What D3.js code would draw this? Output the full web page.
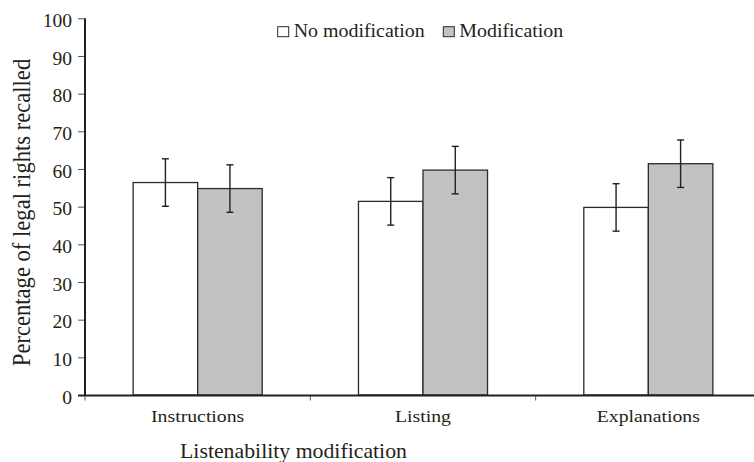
<!DOCTYPE html>
<html>
<head>
<meta charset="utf-8">
<script src="https://cdn.jsdelivr.net/npm/d3@7"></script>
<style>
  html, body { margin: 0; padding: 0; background: #fff; }
  svg { display: block; }
  text { font-family: "Liberation Serif", "Times New Roman", serif; fill: #231f20; }
</style>
</head>
<body>
<script>
const categories = ["Instructions", "Listing", "Explanations"];
const seriesNames = ["No modification", "Modification"];
const noModValues = [56.4, 51.4, 49.8];
const modValues = [54.8, 59.7, 61.4];
const noModErrors = [6.3, 6.3, 6.3];
const modErrors = [6.3, 6.3, 6.3];
const yTicks = [0, 10, 20, 30, 40, 50, 60, 70, 80, 90, 100];
const yTitle = "Percentage of legal rights recalled";
const xTitle = "Listenability modification";

const W = 754, H = 462;
const mLeft = 85, mTop = 18.3, mBottom = 395, mRight = 761;
const colors = {"No modification": "#ffffff", "Modification": "#c1c2c4"};
const ink = "#231f20";

const svg = d3.select("body").append("svg").attr("width", W).attr("height", H);

const y = d3.scaleLinear().domain([0, 100]).range([mBottom, mTop]);
const x = d3.scaleBand().domain(categories).range([mLeft, mRight]).paddingInner(0).paddingOuter(0);
const xs = d3.scaleBand().domain(seriesNames).range([0, x.bandwidth()]).paddingInner(0).paddingOuter(0.746);

const rows = categories.map((c, i) => ({
  cat: c,
  vals: [
    {s: seriesNames[0], v: noModValues[i], e: noModErrors[i]},
    {s: seriesNames[1], v: modValues[i], e: modErrors[i]}
  ]
}));

// bars
const g = svg.append("g");
const groups = g.selectAll("g.cat").data(rows).join("g")
  .attr("transform", d => `translate(${x(d.cat)},0)`);
groups.selectAll("rect").data(d => d.vals).join("rect")
  .attr("x", d => xs(d.s))
  .attr("y", d => y(d.v))
  .attr("width", xs.bandwidth())
  .attr("height", d => y(0) - y(d.v))
  .attr("fill", d => colors[d.s])
  .attr("stroke", "#2b2b2b")
  .attr("stroke-width", 1.3);

// error bars
const cap = 3.5;
const eb = groups.selectAll("g.err").data(d => d.vals).join("g").attr("class", "err")
  .attr("stroke", ink).attr("stroke-width", 1.4);
eb.append("line")
  .attr("x1", d => xs(d.s) + xs.bandwidth() / 2).attr("x2", d => xs(d.s) + xs.bandwidth() / 2)
  .attr("y1", d => y(d.v + d.e)).attr("y2", d => y(d.v - d.e));
eb.append("line")
  .attr("x1", d => xs(d.s) + xs.bandwidth() / 2 - cap).attr("x2", d => xs(d.s) + xs.bandwidth() / 2 + cap)
  .attr("y1", d => y(d.v + d.e)).attr("y2", d => y(d.v + d.e));
eb.append("line")
  .attr("x1", d => xs(d.s) + xs.bandwidth() / 2 - cap).attr("x2", d => xs(d.s) + xs.bandwidth() / 2 + cap)
  .attr("y1", d => y(d.v - d.e)).attr("y2", d => y(d.v - d.e));

// y axis
const yAxis = svg.append("g").attr("transform", `translate(${mLeft},0)`)
  .call(d3.axisLeft(y).tickValues(yTicks).tickSize(7).tickPadding(0).tickFormat(d3.format("d")));
yAxis.select(".domain").remove();
yAxis.selectAll(".tick line").attr("stroke", "#555").attr("stroke-width", 1);
yAxis.selectAll(".tick text").remove();
yAxis.selectAll(".tick").append("text")
  .attr("transform", "translate(-13,8.3) scale(1.1,1)")
  .attr("text-anchor", "end")
  .style("font-family", "'Liberation Serif', serif")
  .style("font-size", "17.8px")
  .style("fill", ink)
  .text(d => d);
svg.append("line").attr("x1", mLeft).attr("x2", mLeft).attr("y1", y(100)).attr("y2", mBottom + 1)
  .attr("stroke", ink).attr("stroke-width", 2);

// x axis
const boundaries = categories.map(c => x(c)).concat([x(categories[categories.length - 1]) + x.bandwidth()]);
svg.append("g").selectAll("line").data(boundaries).join("line")
  .attr("x1", d => d).attr("x2", d => d).attr("y1", mBottom).attr("y2", mBottom + 5.5)
  .attr("stroke", "#555").attr("stroke-width", 1);
svg.append("line").attr("x1", mLeft - 7).attr("x2", mRight).attr("y1", mBottom + 0.6).attr("y2", mBottom + 0.6)
  .attr("stroke", ink).attr("stroke-width", 2);

svg.append("g").selectAll("text").data(categories).join("text")
  .attr("transform", d => `translate(${x(d) + x.bandwidth() / 2},422.3) scale(1.13,1)`)
  .attr("text-anchor", "middle")
  .style("font-size", "17.5px")
  .text(d => d);

// titles
svg.append("text")
  .attr("transform", `translate(293.5,458.3) scale(1.09,1)`)
  .attr("text-anchor", "middle")
  .style("font-size", "20px")
  .text(xTitle);

svg.append("text")
  .attr("transform", `translate(30,212.5) rotate(-90) scale(1,1.1)`)
  .attr("text-anchor", "middle")
  .style("font-size", "22.6px")
  .text(yTitle);

// legend
const legendX = [277.7, 443.3];
const lg = svg.append("g").selectAll("g").data(seriesNames).join("g")
  .attr("transform", (d, i) => `translate(${legendX[i]},26.7)`);
lg.append("rect").attr("width", 11).attr("height", 10)
  .attr("fill", d => colors[d]).attr("stroke", "#2b2b2b").attr("stroke-width", 1);
lg.append("text")
  .attr("transform", "translate(16,10.6) scale(1.12,1)")
  .style("font-size", "17.8px")
  .text(d => d);
</script>
</body>
</html>
